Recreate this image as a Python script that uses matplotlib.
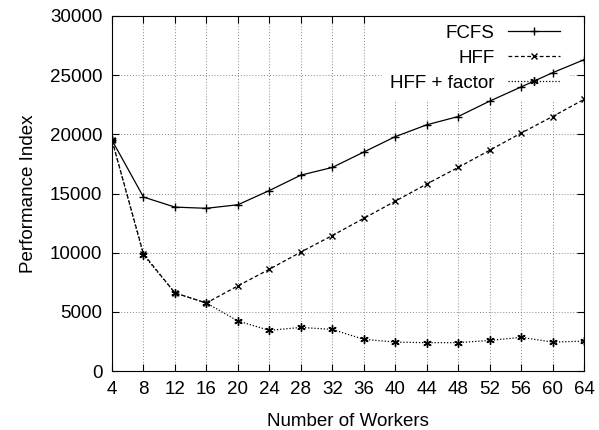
import matplotlib.pyplot as plt

plt.rcParams['font.family'] = ['Liberation Sans', 'DejaVu Sans']

workers = [4, 8, 12, 16, 20, 24, 28, 32, 36, 40, 44, 48, 52, 56, 60, 64]
fcfs = [19500, 14700, 13850, 13750, 14050, 15250, 16550, 17200, 18500,
        19800, 20800, 21500, 22800, 24000, 25200, 26300]
hff = [19500, 9900, 6600, 5750, 7200, 8600, 10050, 11450, 12900,
       14350, 15800, 17200, 18650, 20100, 21500, 22950]
hff_factor = [19500, 9800, 6600, 5750, 4230, 3440, 3690, 3520, 2680,
              2450, 2400, 2400, 2590, 2850, 2450, 2530]

fig = plt.figure(figsize=(5.99, 4.30), dpi=100)
ax = fig.add_axes([0.187, 0.137, 0.788, 0.826])

ax.plot(workers, fcfs, color='black', linestyle='-', linewidth=0.9,
        marker='+', markersize=6, label='FCFS', zorder=3)
ax.plot(workers, hff, color='black', linestyle=(0, (3, 2)), linewidth=0.9,
        marker='x', markersize=5, label='HFF', zorder=3)
ax.plot(workers, hff_factor, color='black', linestyle=(0, (1, 1.5)), linewidth=0.9,
        marker=(6, 2, 0), markersize=6, label='HFF + factor', zorder=3)

ax.set_xlim(4, 64)
ax.set_ylim(0, 30000)
ax.set_xticks(workers)
ax.set_yticks(range(0, 30001, 5000))
ax.tick_params(direction='in', top=True, right=True, labelsize=13.5, length=5, pad=7)
ax.grid(True, color='#888888', linestyle=(0, (1, 2)), linewidth=0.7)
ax.set_axisbelow(True)

ax.set_xlabel('Number of Workers', fontsize=13.5, labelpad=11)
ax.set_ylabel('Performance Index', fontsize=13.5, labelpad=9)

leg = ax.legend(loc='upper right', bbox_to_anchor=(0.965, 0.997), markerfirst=False,
                fontsize=13.5, frameon=True, fancybox=False, edgecolor='white',
                framealpha=1, handlelength=2.8, handletextpad=0.7,
                labelspacing=0.42, borderaxespad=0, borderpad=0.4)
for t in leg.get_texts():
    t.set_ha('right')
leg._legend_box.align = 'right'
leg.set_zorder(2)

fig.savefig('out.png', dpi=100)
